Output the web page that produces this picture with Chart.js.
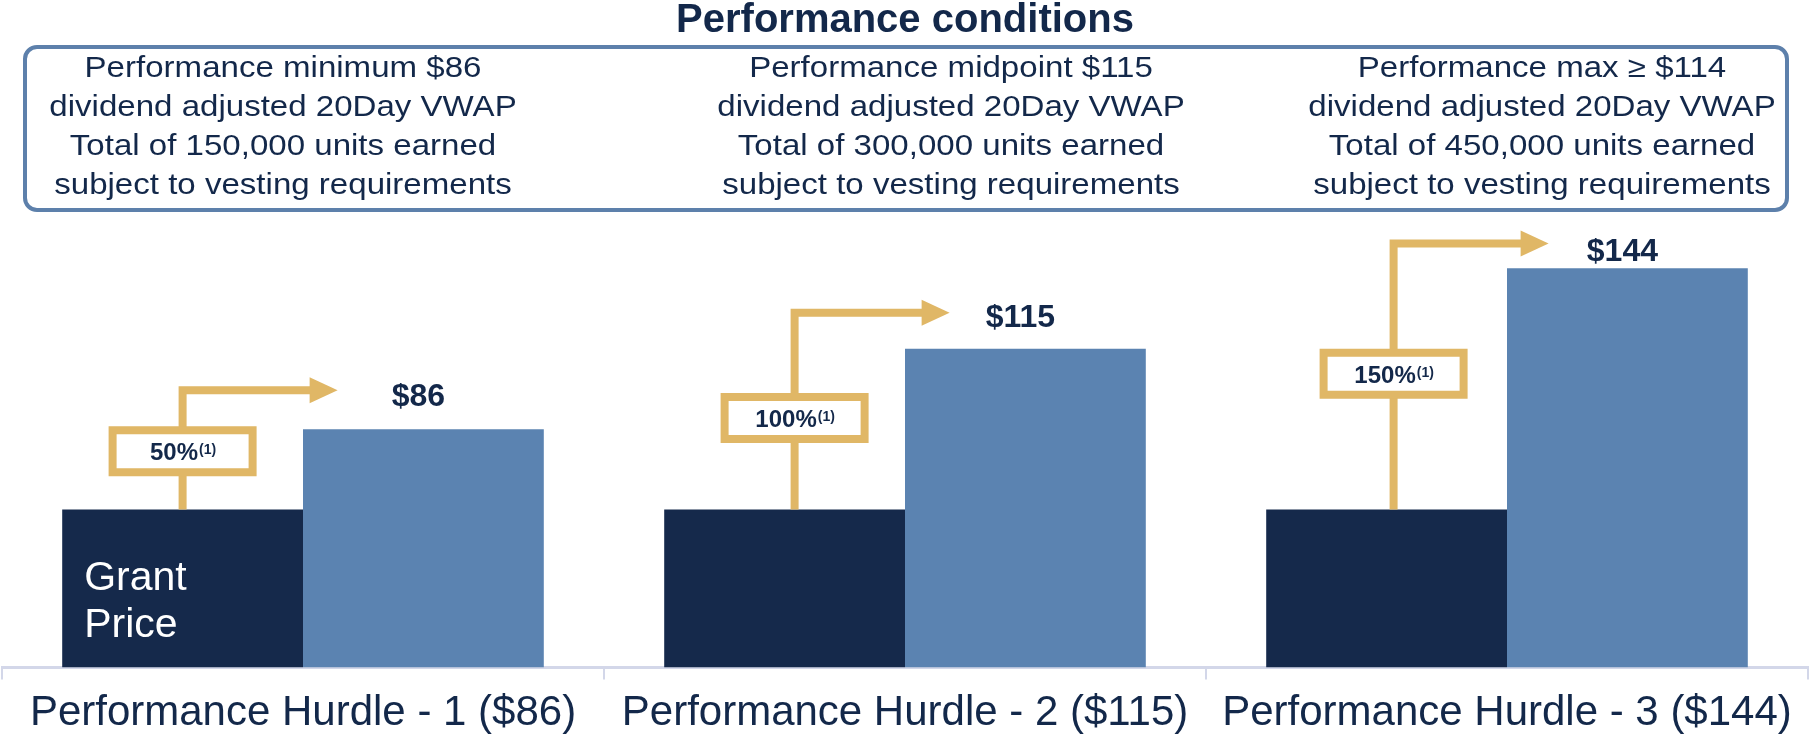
<!DOCTYPE html>
<html>
<head>
<meta charset="utf-8">
<script src="https://cdn.jsdelivr.net/npm/chart.js@4"></script>
<style>
  html, body { margin: 0; padding: 0; background: #fff; overflow: hidden; }
</style>
</head>
<body>
<canvas id="hurdleChart" width="1810" height="780"></canvas>
<script>
const categories = [
  "Performance Hurdle - 1 ($86)",
  "Performance Hurdle - 2 ($115)",
  "Performance Hurdle - 3 ($144)",
];
const grantPrice = [57, 57, 57];
const hurdlePrice = [86, 115, 144];
const payoutPct = ["50%", "100%", "150%"];
const conditionText = [
  ["Performance minimum $86", "dividend adjusted 20Day VWAP", "Total of 150,000 units earned", "subject to vesting requirements"],
  ["Performance midpoint $115", "dividend adjusted 20Day VWAP", "Total of 300,000 units earned", "subject to vesting requirements"],
  ["Performance max \u2265 $114", "dividend adjusted 20Day VWAP", "Total of 450,000 units earned", "subject to vesting requirements"],
];

const FONT = '"Liberation Sans", Arial, sans-serif';
const NAVY = "#13284a";
const GOLD = "#e0b766";

const decorPlugin = {
  id: "decor",
  beforeDraw(chart) {
    const c = chart.ctx;
    c.save();
    c.fillStyle = NAVY;
    c.textAlign = "center";
    c.textBaseline = "alphabetic";
    c.font = "bold 40px " + FONT;
    c.fillText("Performance conditions", 905, 32);

    // box with the three conditions
    c.strokeStyle = "#5d80ab";
    c.lineWidth = 4;
    c.beginPath();
    c.roundRect(25, 47, 1762, 163, 12);
    c.stroke();

    // text in the box is a little stretched sideways
    c.font = "29px " + FONT;
    const colX = [283, 951, 1542];
    conditionText.forEach((lines, i) => {
      lines.forEach((t, j) => {
        c.save();
        c.translate(colX[i], 77 + j * 39);
        c.scale(1.14, 1);
        c.fillText(t, 0, 0);
        c.restore();
      });
    });
    c.restore();
  },
  afterDatasetsDraw(chart, args, opts) {
    const c = chart.ctx;
    const yScale = chart.scales.y;
    const dark = chart.getDatasetMeta(0).data;
    const light = chart.getDatasetMeta(1).data;
    c.save();

    // "Grant Price" inside the first dark bar
    const first = dark[0];
    c.fillStyle = "#fff";
    c.font = "41px " + FONT;
    c.textAlign = "left";
    c.fillText("Grant", first.x - first.width / 2 + 22, chart.chartArea.bottom - 78);
    c.fillText("Price", first.x - first.width / 2 + 22, chart.chartArea.bottom - 31);

    dark.forEach((bar, i) => {
      const x = bar.x + opts.xShift[i];
      const ay = yScale.getPixelForValue(opts.arrowLevel[i]);
      const by = yScale.getPixelForValue(opts.boxLevel[i]);
      const ly = yScale.getPixelForValue(opts.labelLevel[i]);

      // elbow arrow
      c.strokeStyle = GOLD;
      c.fillStyle = GOLD;
      c.lineWidth = 8;
      c.lineJoin = "miter";
      c.beginPath();
      c.moveTo(x, bar.y);
      c.lineTo(x, ay);
      c.lineTo(x + 130, ay);
      c.stroke();
      c.beginPath();
      c.moveTo(x + 127, ay - 13);
      c.lineTo(x + 155, ay);
      c.lineTo(x + 127, ay + 13);
      c.closePath();
      c.fill();

      // payout box
      c.fillStyle = "#fff";
      c.beginPath();
      c.rect(x - 70, by - 21, 140, 42);
      c.fill();
      c.stroke();

      c.fillStyle = NAVY;
      c.textAlign = "left";
      c.font = "bold 24px " + FONT;
      const w1 = c.measureText(payoutPct[i]).width;
      c.font = "bold 14px " + FONT;
      const w2 = c.measureText("(1)").width;
      const sx = x - (w1 + w2) / 2;
      c.font = "bold 24px " + FONT;
      c.fillText(payoutPct[i], sx, by + 9);
      c.font = "bold 14px " + FONT;
      c.fillText("(1)", sx + w1 + 1, by + 3);

      // hurdle value
      c.textAlign = "center";
      c.font = "bold 32px " + FONT;
      c.fillText("$" + hurdlePrice[i], light[i].x - 5, ly);
    });
    c.restore();
  },
};

const ctx = document.getElementById("hurdleChart").getContext("2d");
new Chart(ctx, {
  type: "bar",
  data: {
    labels: categories,
    datasets: [
      { label: "Grant Price", data: grantPrice, backgroundColor: "#15294b" },
      { label: "Hurdle", data: hurdlePrice, backgroundColor: "#5b83b1" },
    ],
  },
  options: {
    responsive: false,
    animation: false,
    categoryPercentage: 0.8,
    barPercentage: 1,
    layout: { padding: { top: 224, left: 2, right: 2, bottom: 32 } },
    plugins: {
      legend: { display: false },
      tooltip: { enabled: false },
      decor: {
        xShift: [0, 10, 7],
        arrowLevel: [100, 128, 153],
        boxLevel: [78, 90, 106],
        labelLevel: [94.5, 123, 146.5],
      },
    },
    scales: {
      x: {
        grid: { drawOnChartArea: false, color: "#d3d7e9", lineWidth: 2, tickLength: 12 },
        border: { color: "#d3d7e9", width: 3 },
        ticks: { font: { family: FONT, size: 42 }, color: NAVY, padding: 9 },
      },
      y: { display: false, min: 0, max: 160 },
    },
  },
  plugins: [decorPlugin],
});
</script>
</body>
</html>
